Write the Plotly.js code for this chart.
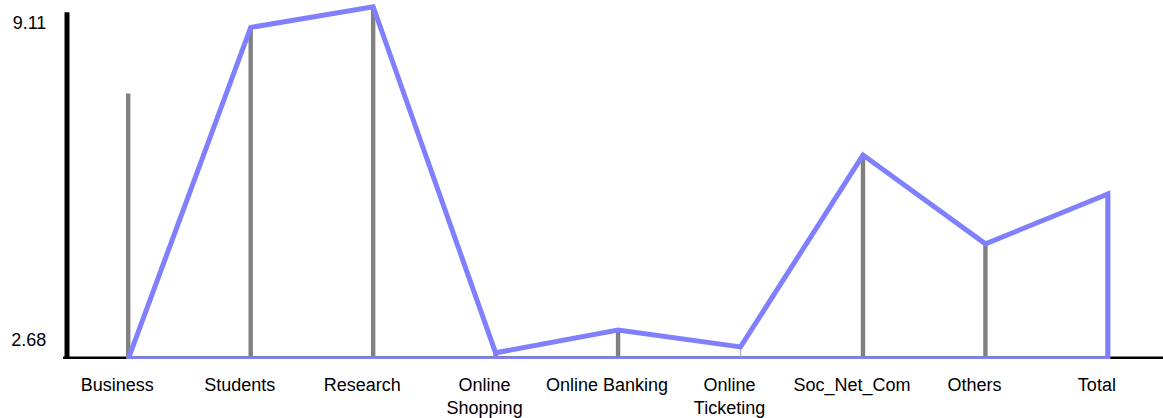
<!DOCTYPE html>
<html>
<head>
<meta charset="utf-8">
<script src="https://cdn.plot.ly/plotly-3.0.1.min.js"></script>
<style>html,body{margin:0;padding:0;background:#fff;}#chart{width:1163px;height:418px;}</style>
</head>
<body>
<div id="chart"></div>
<script>
const categories = ['Business','Students','Research','Online Shopping','Online Banking','Online Ticketing','Soc_Net_Com','Others','Total'];
const tickLabels = ['Business','Students','Research','Online<br>Shopping','Online Banking','Online<br>Ticketing','Soc_Net_Com','Others','Total'];
const stemValues = [7.67, 9.01, 9.43, 2.41, 2.87, 2.53, 6.42, 4.62, 5.63];
const lineValues = [2.284, 9.01, 9.43, 2.41, 2.87, 2.53, 6.42, 4.62, 5.63];
const baseline = 2.284;
const yTickVals = [9.11, 2.68];
const yTickText = ['9.11', '2.68'];

const thinStem = 'Online Ticketing';
const stems = {
  type: 'bar',
  x: categories,
  y: stemValues.map(v => v - baseline),
  base: baseline,
  width: categories.map(c => c === thinStem ? 0.012 : 0.036),
  marker: {color: categories.map(c => c === thinStem ? '#b8b8b8' : '#808080'), line: {width: 0}},
  hoverinfo: 'skip'
};
const outline = {
  type: 'scatter',
  mode: 'lines',
  x: categories.concat([categories[categories.length - 1], categories[0]]),
  y: lineValues.concat([baseline, baseline]),
  line: {color: '#8080ff', width: 5},
  hoverinfo: 'skip'
};
const font = {family: 'Liberation Sans, Arial, sans-serif', size: 18, color: '#000'};
const layout = {
  width: 1163, height: 418,
  margin: {l: 67, r: 0, t: 0, b: 59},
  showlegend: false,
  paper_bgcolor: '#fff', plot_bgcolor: '#fff',
  font: font,
  xaxis: {
    type: 'category', range: [-0.5, 8.45],
    tickvals: categories, ticktext: tickLabels,
    showgrid: false, zeroline: false, showline: false,
    ticks: 'outside', ticklen: 9, tickcolor: 'rgba(0,0,0,0)',
    ticklabelshift: -11,
    tickfont: font
  },
  yaxis: {
    range: [baseline, 9.566],
    tickvals: yTickVals, ticktext: yTickText,
    showgrid: false, zeroline: false, showline: false,
    ticks: 'outside', ticklen: 16, tickcolor: 'rgba(0,0,0,0)',
    tickfont: font
  },
  shapes: [
    {type: 'line', layer: 'below', xref: 'paper', yref: 'y', x0: 0, x1: 0, y0: baseline - 0.05, y1: 9.32, line: {color: '#000', width: 5}},
    {type: 'line', layer: 'below', xref: 'paper', yref: 'y', x0: -0.0036, x1: 1, y0: baseline, y1: baseline, line: {color: '#000', width: 5}}
  ]
};
Plotly.newPlot('chart', [stems, outline], layout, {displayModeBar: false, staticPlot: true});
</script>
</body>
</html>
